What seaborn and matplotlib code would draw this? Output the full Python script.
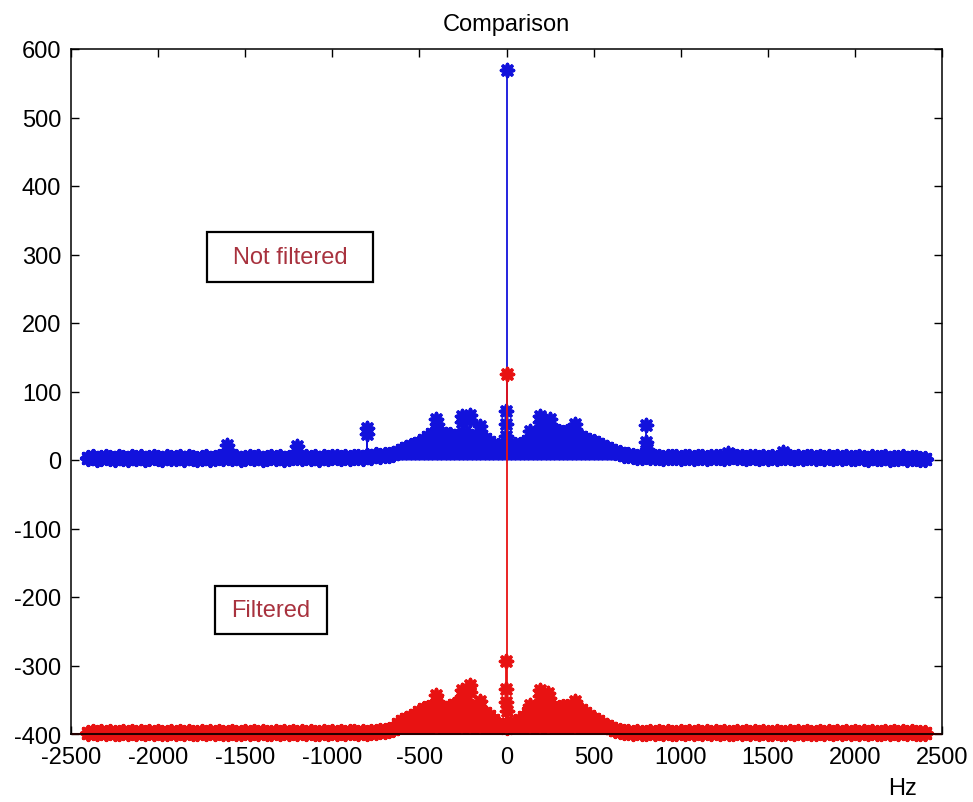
import numpy as np
import matplotlib
matplotlib.use("Agg")
import matplotlib.pyplot as plt
import seaborn as sns
from matplotlib.patches import Rectangle

# Spectrum bins (Hz)
freq_hz = np.arange(-2400, 2401, 25)

# Magnitude of the unfiltered spectrum at each bin
blue_level = [
    3, 4, 2, 3, 5, 3, 2, 4, 3, 2, 4, 3, 5, 2, 3, 4,          # -2400 .. -2025
    3, 2, 4, 3, 3, 5, 2, 4, 3, 2, 3, 4, 2, 3, 4, 3,          # -2000 .. -1625
    5, 3, 4, 2, 3, 4, 3, 5, 2, 3, 4, 3, 4, 2, 3, 4,          # -1600 .. -1225
    5, 3, 4, 3, 5, 2, 4, 3, 4, 5, 3, 4, 3, 5, 4, 3,          # -1200 .. -825
    6, 5, 7, 6, 8, 7, 9, 12, 14, 17, 20, 22, 25, 29, 34, 38,  # -800 .. -425
    41, 39, 37, 36, 34, 35, 37, 36, 34, 32, 31, 30, 27, 22, 20, 20,  # -400 .. -25
    20, 21, 22, 22, 24, 28, 34, 36, 38, 40, 41, 40, 41, 40, 41, 38,  # 0 .. 375
    37, 34, 31, 28, 26, 23, 21, 18, 15, 12, 10, 8, 7, 6, 5, 5,        # 400 .. 775
    6, 5, 4, 5, 3, 4, 5, 4, 3, 5, 4, 3, 4, 5, 3, 4,          # 800 .. 1175
    4, 5, 3, 4, 6, 5, 4, 3, 4, 5, 3, 4, 3, 4, 3, 5,          # 1200 .. 1575
    5, 4, 3, 4, 3, 5, 4, 3, 4, 3, 4, 3, 5, 3, 4, 3,          # 1600 .. 1975
    3, 4, 3, 2, 4, 3, 3, 4, 2, 3, 3, 4, 2, 3, 3, 2,          # 2000 .. 2375
    2,                                                        # 2400
]

# Magnitude of the filtered spectrum at each bin
red_level = [
    2, 3, 2, 3, 2, 3, 2, 2, 3, 2, 3, 2, 3, 2, 3, 2,
    3, 2, 2, 3, 2, 3, 2, 3, 2, 2, 3, 2, 3, 2, 3, 2,
    2, 3, 2, 2, 3, 2, 3, 2, 3, 2, 2, 3, 2, 3, 2, 3,
    2, 3, 2, 3, 2, 2, 3, 2, 3, 2, 3, 2, 3, 3, 2, 3,
    2, 3, 3, 4, 5, 6, 8, 14, 19, 22, 25, 28, 32, 36, 38, 40,
    40, 38, 37, 40, 42, 44, 44, 42, 40, 38, 34, 30, 26, 20, 15, 12,
    10, 12, 16, 20, 25, 30, 36, 40, 42, 42, 40, 38, 38, 40, 40, 40,
    38, 35, 30, 26, 22, 19, 14, 11, 9, 6, 4, 3, 3, 2, 3, 2,
    2, 3, 2, 3, 2, 3, 2, 2, 3, 2, 3, 2, 3, 2, 3, 2,
    3, 2, 3, 2, 2, 3, 2, 3, 2, 3, 2, 3, 2, 2, 3, 2,
    2, 3, 2, 3, 2, 3, 2, 2, 3, 2, 3, 2, 3, 2, 3, 2,
    3, 2, 3, 2, 3, 2, 2, 3, 2, 3, 2, 3, 2, 3, 2, 2,
    2,
]

# Narrow spectral lines standing above the unfiltered spectrum
blue_peak_hz = [-1602, -1600, -1598, -1202, -1200, -802, -800, -402, -400,
                -257, -255, -212, -210, -152, -150, -4, -3, -2, 0,
                135, 192, 194, 250, 252, 393, 395, 800, 802, 804, 1270, 1590]
blue_peak_val = [22, 15, 9, 20, 12, 46, 38, 60, 52,
                 64, 56, 66, 58, 49, 42, 72, 52, 35, 570,
                 42, 64, 56, 60, 52, 53, 45, 51, 27, 16, 10, 12]

# Narrow spectral lines standing above the filtered spectrum
red_peak_hz = [-402, -400, -257, -255, -212, -210, -152, -150,
               -3, -2, -1, 1, 0,
               135, 192, 194, 240, 242, 393, 395]
red_peak_val = [57, 48, 64, 55, 72, 62, 48, 40,
                107, 66, 47, 34, 525,
                43, 64, 55, 60, 52, 48, 40]

RED_BASE = -400          # the filtered trace is drawn shifted down
BLUE = "#1212DC"
RED = "#E81212"
STAR = (8, 2, 0)         # asterisk marker

sns.set_theme(style="white")
plt.rcParams["font.family"] = ["Liberation Sans", "DejaVu Sans"]
plt.rcParams["axes.unicode_minus"] = False
plt.rcParams["text.color"] = "black"
plt.rcParams["axes.titlecolor"] = "black"

fig = plt.figure(figsize=(9.73, 8.03), dpi=100)
ax = fig.add_axes([71 / 973, 1 - 735 / 803, 871 / 973, 685 / 803])


def draw_spectrum(level, peak_hz, peak_val, base, color, z):
    lvl = np.asarray(level, dtype=float) + base
    ax.fill_between(freq_hz, base, lvl, color=color, lw=0, zorder=z)
    ax.vlines(freq_hz, base, lvl, color=color, lw=1.0, zorder=z)
    sns.scatterplot(x=freq_hz, y=lvl, marker=STAR, s=90, color=color,
                    edgecolor="face", linewidth=3.0, ax=ax, zorder=z + 0.1,
                    clip_on=False, legend=False)
    pk = np.asarray(peak_val, dtype=float) + base
    ax.vlines(peak_hz, base, pk, color=color, lw=1.3, zorder=z + 0.2)
    sns.scatterplot(x=peak_hz, y=pk, marker=STAR, s=75, color=color,
                    edgecolor="face", linewidth=2.6, ax=ax, zorder=z + 0.3,
                    clip_on=False, legend=False)


draw_spectrum(blue_level, blue_peak_hz, blue_peak_val, 0, BLUE, 2)
draw_spectrum(red_level, red_peak_hz, red_peak_val, RED_BASE, RED, 3)
ax.axhline(RED_BASE, color="#A00000", lw=1.5, zorder=3.15, clip_on=False)

ax.set_xlim(-2500, 2500)
ax.set_ylim(-400, 600)
ax.set_xticks(np.arange(-2500, 2501, 500))
ax.set_yticks(np.arange(-400, 601, 100))
ax.tick_params(direction="in", length=6, width=1, colors="black",
               labelsize=17, top=True, right=True, bottom=True, left=True)
ax.tick_params(axis="x", pad=9)
ax.tick_params(axis="y", pad=7)
for sp in ax.spines.values():
    sp.set_color("black")
    sp.set_linewidth(1.1)
    sp.set_zorder(5)

ax.set_title("Comparison", fontsize=17, pad=14, color="black")
fig.text(903 / 973, 1 - 789 / 803, "Hz", fontsize=17, ha="center", va="center")

label_color = "#A8323E"
for cx, cy, w, h, txt in [(-1243, 296, 953, 73, "Not filtered"),
                          (-1352, -219, 643, 70, "Filtered")]:
    ax.add_patch(Rectangle((cx - w / 2, cy - h / 2), w, h, fill=False,
                           edgecolor="black", lw=1.6, zorder=6))
    ax.text(cx, cy, txt, color=label_color, fontsize=17,
            ha="center", va="center", zorder=6)

fig.savefig("out.png", dpi=100, facecolor="white")
